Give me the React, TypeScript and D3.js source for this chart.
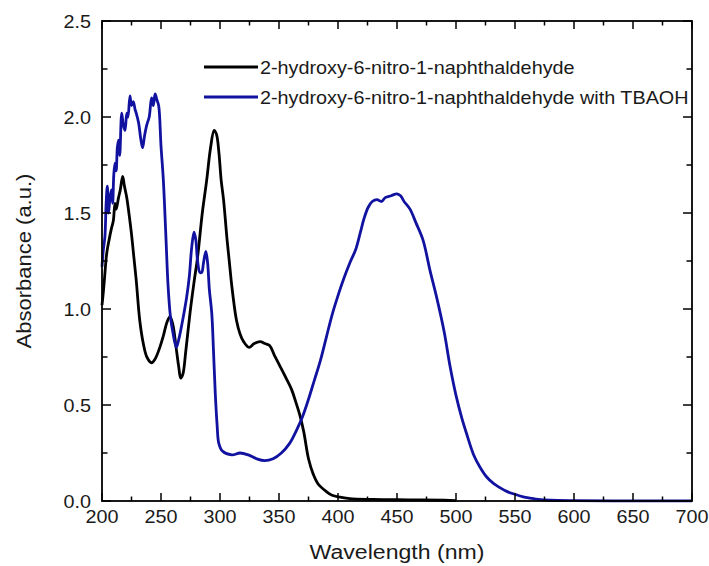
import React, { useEffect, useRef } from "react";
import * as d3 from "d3";

const blackWl = [200, 201, 202, 204, 206, 208, 209.6, 211, 212, 214, 215.5, 217.5, 219, 221, 223, 225, 227, 229, 232, 235, 238, 242, 245, 249, 252, 255, 257.6, 260, 263, 265, 266.7, 268.5, 271, 274.6, 278, 281, 285, 288.7, 292, 295, 297, 299, 301, 303, 306, 308, 310, 314, 317, 320, 324.6, 329, 334, 338, 342, 346, 351, 356, 360.7, 364, 368, 371, 375, 379, 383, 390, 395, 402, 410, 430, 460, 490, 500];
const blackAbs = [1.02, 1.08, 1.15, 1.29, 1.36, 1.42, 1.46, 1.55, 1.52, 1.58, 1.62, 1.69, 1.64, 1.58, 1.49, 1.39, 1.27, 1.15, 0.94, 0.82, 0.75, 0.72, 0.74, 0.8, 0.86, 0.93, 0.96, 0.92, 0.79, 0.7, 0.64, 0.66, 0.78, 0.98, 1.14, 1.27, 1.5, 1.67, 1.84, 1.93, 1.91, 1.82, 1.67, 1.57, 1.36, 1.24, 1.12, 0.94, 0.87, 0.83, 0.8, 0.82, 0.83, 0.82, 0.81, 0.76, 0.7, 0.64, 0.58, 0.52, 0.44, 0.36, 0.22, 0.14, 0.09, 0.05, 0.03, 0.02, 0.012, 0.008, 0.006, 0.004, 0.002];

const blueWl = [200, 201, 202.5, 203.5, 204.5, 205.5, 206.8, 208, 209, 210, 211, 212, 213, 214, 215, 216.7, 218, 219.5, 221, 222, 223.7, 225, 226.5, 228, 229, 231, 233, 234.4, 236, 238, 240, 242, 243.5, 245, 246.5, 248, 250, 252, 254, 256, 258, 260, 263, 265, 268, 271.7, 274, 276, 278, 279.5, 281, 283, 284.5, 286, 288, 289.5, 291, 293, 294.5, 296, 297.5, 299, 302, 310, 317, 324, 331, 338, 345, 352, 359, 365, 370, 375, 380, 385, 390, 395, 400, 405, 410, 415, 419, 422, 425.6, 429, 433, 437, 440, 445, 450, 453, 456, 461, 466, 472, 478, 484, 490, 495, 500, 505, 509, 515, 520, 526, 532, 537, 543, 550, 557, 563, 570, 580, 600, 650, 700];
const blueAbs = [1.22, 1.3, 1.38, 1.55, 1.64, 1.5, 1.58, 1.62, 1.55, 1.7, 1.76, 1.72, 1.84, 1.88, 1.8, 2.02, 1.96, 1.93, 2.02, 2.0, 2.11, 2.06, 2.08, 2.04, 2.02, 1.97, 1.88, 1.84, 1.9, 1.96, 2.0, 2.1, 2.06, 2.12, 2.09, 2.06, 1.85, 1.67, 1.4, 1.12, 0.96, 0.88, 0.8, 0.84, 0.93, 1.06, 1.17, 1.32, 1.4, 1.36, 1.25, 1.19, 1.19, 1.24, 1.3, 1.24, 1.1, 0.98, 0.78, 0.56, 0.4, 0.3, 0.26, 0.24, 0.25, 0.24, 0.22, 0.21, 0.22, 0.25, 0.3, 0.37, 0.44, 0.53, 0.63, 0.73, 0.85, 0.97, 1.07, 1.16, 1.24, 1.31, 1.4, 1.47, 1.53, 1.56, 1.57, 1.56, 1.58, 1.59, 1.6, 1.59, 1.56, 1.52, 1.45, 1.36, 1.2, 1.05, 0.88, 0.7, 0.55, 0.43, 0.35, 0.24, 0.18, 0.125, 0.09, 0.07, 0.05, 0.035, 0.022, 0.015, 0.008, 0.004, 0.002, 0.001, 0.001];

const xMajor = [200, 250, 300, 350, 400, 450, 500, 550, 600, 650, 700];
const xMinor = [225, 275, 325, 375, 425, 475, 525, 575, 625, 675];
const yMajor = [0.0, 0.5, 1.0, 1.5, 2.0, 2.5];
const yMinor = [0.25, 0.75, 1.25, 1.75, 2.25];

const seriesNames = ["2-hydroxy-6-nitro-1-naphthaldehyde", "2-hydroxy-6-nitro-1-naphthaldehyde with TBAOH"];
const seriesColors = ["#000000", "#1212a0"];

const FONT = "Arial, 'Liberation Sans', Helvetica, sans-serif";

export default function App() {
  const ref = useRef<SVGSVGElement>(null);
  useEffect(() => {
    const svg = d3.select(ref.current);
    svg.selectAll("*").remove();
    const W = 709, H = 566;
    const L = 102, R = 692, T = 21, B = 501;
    const x = d3.scaleLinear().domain([200, 700]).range([L, R]);
    const y = d3.scaleLinear().domain([0, 2.5]).range([B, T]);
    svg.append("rect").attr("width", W).attr("height", H).attr("fill", "#fff");

    const line = d3.line<[number, number]>().x(d => x(d[0])).y(d => y(d[1])).curve(d3.curveCatmullRom.alpha(0.5));
    const black = blackWl.map((w, i) => [w, blackAbs[i]] as [number, number]);
    const blue = blueWl.map((w, i) => [w, blueAbs[i]] as [number, number]);
    svg.append("path").attr("d", line(black)!).attr("fill", "none").attr("stroke", seriesColors[0]).attr("stroke-width", 2.8).attr("stroke-linejoin", "round");
    svg.append("path").attr("d", line(blue)!).attr("fill", "none").attr("stroke", seriesColors[1]).attr("stroke-width", 2.8).attr("stroke-linejoin", "round");

    // frame
    svg.append("rect").attr("x", L).attr("y", T).attr("width", R - L).attr("height", B - T).attr("fill", "none").attr("stroke", "#000").attr("stroke-width", 1.8);

    const tk = svg.append("g").attr("stroke", "#000").attr("stroke-width", 1.5);
    const majLen = 8, minLen = 4.5;
    xMajor.forEach(v => {
      tk.append("line").attr("x1", x(v)).attr("x2", x(v)).attr("y1", B).attr("y2", B - majLen);
      tk.append("line").attr("x1", x(v)).attr("x2", x(v)).attr("y1", T).attr("y2", T + majLen);
    });
    xMinor.forEach(v => {
      tk.append("line").attr("x1", x(v)).attr("x2", x(v)).attr("y1", B).attr("y2", B - minLen);
      tk.append("line").attr("x1", x(v)).attr("x2", x(v)).attr("y1", T).attr("y2", T + minLen);
    });
    yMajor.forEach(v => {
      tk.append("line").attr("x1", L).attr("x2", L + majLen + 1).attr("y1", y(v)).attr("y2", y(v));
      tk.append("line").attr("x1", R).attr("x2", R - majLen - 1).attr("y1", y(v)).attr("y2", y(v));
    });
    yMinor.forEach(v => {
      tk.append("line").attr("x1", L).attr("x2", L + minLen + 1).attr("y1", y(v)).attr("y2", y(v));
      tk.append("line").attr("x1", R).attr("x2", R - minLen - 1).attr("y1", y(v)).attr("y2", y(v));
    });

    const txt = (px: number, py: number, s: string, size: number, anchor: string, rot = 0, sx = 1.1) => {
      const g = svg.append("g").attr("transform", `translate(${px},${py}) rotate(${rot}) scale(${sx},1)`);
      g.append("text").attr("x", 0).attr("y", 0).attr("font-family", FONT).attr("font-size", size).attr("fill", "#1a1a1a").attr("text-anchor", anchor).text(s);
    };
    xMajor.forEach(v => txt(x(v), 523, String(v), 18, "middle"));
    yMajor.forEach(v => txt(91, y(v) + 6.5, v.toFixed(1), 18, "end"));
    txt((L + R) / 2, 559, "Wavelength (nm)", 21, "middle");
    txt(31, (T + B) / 2, "Absorbance (a.u.)", 20, "middle", -90, 1.1);

    // legend
    const ly = [67, 97];
    seriesNames.forEach((n, i) => {
      svg.append("line").attr("x1", 204).attr("x2", 258).attr("y1", ly[i]).attr("y2", ly[i]).attr("stroke", seriesColors[i]).attr("stroke-width", 2.8);
      txt(260, ly[i] + 7, n, 18, "start");
    });
  }, []);
  return <svg ref={ref} width={709} height={566} style={{ position: "absolute", left: 0, top: 0 }} />;
}
